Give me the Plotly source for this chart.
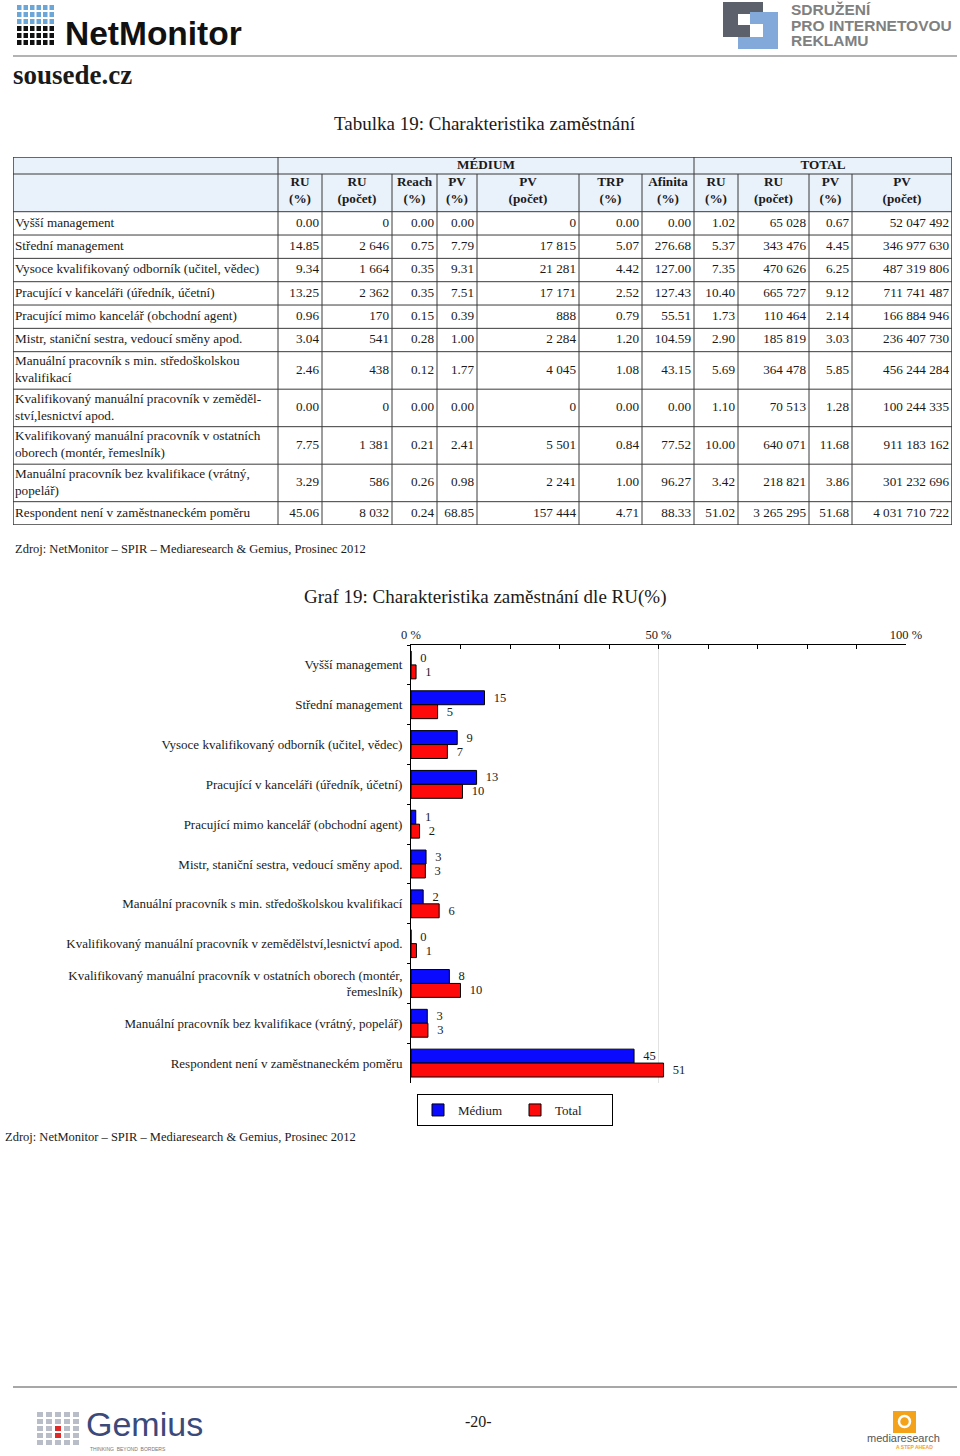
import plotly.graph_objects as go

W, H = 960, 1456
SERIF = "Liberation Serif"
SANS = "Liberation Sans"
TXT = "#1a1a1a"
HEAD_FILL = "#e9f1fb"
LINE = "#3a3a3a"

# ---------------- data ----------------
table_labels = [
    "Vyšší management",
    "Střední management",
    "Vysoce kvalifikovaný odborník (učitel, vědec)",
    "Pracující v kanceláři (úředník, účetní)",
    "Pracující mimo kancelář (obchodní agent)",
    "Mistr, staniční sestra, vedoucí směny apod.",
    "Manuální pracovník s min. středoškolskou<br>kvalifikací",
    "Kvalifikovaný manuální pracovník v zeměděl-<br>ství,lesnictví apod.",
    "Kvalifikovaný manuální pracovník v ostatních<br>oborech (montér, řemeslník)",
    "Manuální pracovník bez kvalifikace (vrátný,<br>popelář)",
    "Respondent není v zaměstnaneckém poměru",
]
chart_labels = [
    "Vyšší management",
    "Střední management",
    "Vysoce kvalifikovaný odborník (učitel, vědec)",
    "Pracující v kanceláři (úředník, účetní)",
    "Pracující mimo kancelář (obchodní agent)",
    "Mistr, staniční sestra, vedoucí směny apod.",
    "Manuální pracovník s min. středoškolskou kvalifikací",
    "Kvalifikovaný manuální pracovník v zemědělství,lesnictví apod.",
    "Kvalifikovaný manuální pracovník v ostatních oborech (montér,<br>řemeslník)",
    "Manuální pracovník bez kvalifikace (vrátný, popelář)",
    "Respondent není v zaměstnaneckém poměru",
]
column_headers = ["", "RU<br>(%)", "RU<br>(počet)", "Reach<br>(%)", "PV<br>(%)", "PV<br>(počet)",
                  "TRP<br>(%)", "Afinita<br>(%)", "RU<br>(%)", "RU<br>(počet)", "PV<br>(%)", "PV<br>(počet)"]
group_headers = ["", "MÉDIUM", "TOTAL"]
group_spans = [1, 7, 4]

medium_ru_pct = [0.00, 14.85, 9.34, 13.25, 0.96, 3.04, 2.46, 0.00, 7.75, 3.29, 45.06]
medium_ru_cnt = [0, 2646, 1664, 2362, 170, 541, 438, 0, 1381, 586, 8032]
medium_reach = [0.00, 0.75, 0.35, 0.35, 0.15, 0.28, 0.12, 0.00, 0.21, 0.26, 0.24]
medium_pv_pct = [0.00, 7.79, 9.31, 7.51, 0.39, 1.00, 1.77, 0.00, 2.41, 0.98, 68.85]
medium_pv_cnt = [0, 17815, 21281, 17171, 888, 2284, 4045, 0, 5501, 2241, 157444]
medium_trp = [0.00, 5.07, 4.42, 2.52, 0.79, 1.20, 1.08, 0.00, 0.84, 1.00, 4.71]
medium_afinita = [0.00, 276.68, 127.00, 127.43, 55.51, 104.59, 43.15, 0.00, 77.52, 96.27, 88.33]
total_ru_pct = [1.02, 5.37, 7.35, 10.40, 1.73, 2.90, 5.69, 1.10, 10.00, 3.42, 51.02]
total_ru_cnt = [65028, 343476, 470626, 665727, 110464, 185819, 364478, 70513, 640071, 218821, 3265295]
total_pv_pct = [0.67, 4.45, 6.25, 9.12, 2.14, 3.03, 5.85, 1.28, 11.68, 3.86, 51.68]
total_pv_cnt = [52047492, 346977630, 487319806, 711741487, 166884946, 236407730,
                456244284, 100244335, 911183162, 301232696, 4031710722]

x_tick_vals = [0, 50, 100]
x_tick_text = ["0 %", "50 %", "100 %"]
series_names = ["Médium", "Total"]

source_text = "Zdroj: NetMonitor – SPIR – Mediaresearch & Gemius, Prosinec 2012"


def px(x):
    return x / W


def py(y):
    return 1 - y / H


def f2(vals):
    return [f"{v:.2f}" for v in vals]


def fint(vals):
    return [f"{v:,}".replace(",", " ") for v in vals]


def bold(s):
    return "<b>" + s.replace("<br>", "</b><br><b>") + "</b>" if s else ""


fig = go.Figure()

# ---------------- table (drawn on its own hidden axes x2/y2, units = pixels) ----------------
col_w = [265, 44, 70, 45, 40, 102, 63, 52, 44, 71, 43, 100]
col_edges = [0]
for w in col_w:
    col_edges.append(col_edges[-1] + w)
table_w = col_edges[-1]

row_h = [17, 37.7] + [37.5 if "<br>" in lab else 23.33 for lab in table_labels]
row_edges = [0]
for h in row_h:
    row_edges.append(row_edges[-1] + h)
table_h = row_edges[-1]
row_mid = [(row_edges[i] + row_edges[i + 1]) / 2 for i in range(len(row_h))]
data_mid = row_mid[2:]

TABLE_TOP = 157
columns = [table_labels, f2(medium_ru_pct), fint(medium_ru_cnt), f2(medium_reach),
           f2(medium_pv_pct), fint(medium_pv_cnt), f2(medium_trp), f2(medium_afinita),
           f2(total_ru_pct), fint(total_ru_cnt), f2(total_pv_pct), fint(total_pv_cnt)]

fig.add_shape(type="rect", xref="x2", yref="y2", x0=0, x1=table_w, y0=0, y1=row_edges[2],
              fillcolor=HEAD_FILL, line=dict(width=0), layer="below")
for i, y in enumerate(row_edges):
    lw = 1.5 if i in (0, len(row_edges) - 1) else 1
    fig.add_shape(type="line", xref="x2", yref="y2", x0=0, x1=table_w, y0=y, y1=y,
                  line=dict(color=LINE, width=lw))
group_edges = [0]
for s in group_spans:
    group_edges.append(group_edges[-1] + s)
for j, x in enumerate(col_edges):
    top = 0 if j in group_edges else row_edges[1]
    lw = 1.5 if j in (0, len(col_edges) - 1) else 1
    fig.add_shape(type="line", xref="x2", yref="y2", x0=x, x1=x, y0=top, y1=table_h,
                  line=dict(color=LINE, width=lw))

tfont = dict(family=SERIF, size=13.2, color=TXT)
gx, gt = [], []
for k, g in enumerate(group_headers):
    if g:
        gx.append((col_edges[group_edges[k]] + col_edges[group_edges[k + 1]]) / 2)
        gt.append(bold(g))
fig.add_trace(go.Scatter(x=gx, y=[row_mid[0]] * len(gx), text=gt, mode="text", textposition="middle center",
                         textfont=tfont, xaxis="x2", yaxis="y2", showlegend=False, hoverinfo="skip",
                         cliponaxis=False))
hx = [(col_edges[j] + col_edges[j + 1]) / 2 for j in range(1, len(col_w))]
fig.add_trace(go.Scatter(x=hx, y=[row_mid[1] - 2] * len(hx), text=[bold(h) for h in column_headers[1:]],
                         mode="text", textposition="middle center", textfont=tfont,
                         xaxis="x2", yaxis="y2", showlegend=False, hoverinfo="skip", cliponaxis=False))
for j, vals in enumerate(columns):
    if j == 0:
        xs, pos = [col_edges[0] + 2] * len(vals), "middle right"
    else:
        xs, pos = [col_edges[j + 1] - 3] * len(vals), "middle left"
    fig.add_trace(go.Scatter(x=xs, y=data_mid, text=vals, mode="text", textposition=pos, textfont=tfont,
                             xaxis="x2", yaxis="y2", showlegend=False, hoverinfo="skip", cliponaxis=False))

# ---------------- bar chart ----------------
for name, vals, col in [(series_names[0], medium_ru_pct, "#0a0aff"), (series_names[1], total_ru_pct, "#ff0a0a")]:
    fig.add_trace(go.Bar(
        y=chart_labels, x=vals, name=name, orientation="h",
        marker=dict(color=col, line=dict(color="black", width=1)),
        texttemplate="\u00a0\u00a0%{x:.0f}", textposition="outside", cliponaxis=False,
        constraintext="none",
        textfont=dict(family=SERIF, size=12.5, color=TXT),
        xaxis="x", yaxis="y",
    ))

fig.update_layout(
    width=W, height=H, margin=dict(l=0, r=0, t=0, b=0, autoexpand=False),
    paper_bgcolor="white", plot_bgcolor="white",
    barmode="group", bargap=0.3, bargroupgap=0,
    font=dict(family=SERIF, size=13, color=TXT),
    xaxis=dict(domain=[px(411), px(906)], range=[0, 100], side="top",
               tickvals=x_tick_vals, ticktext=x_tick_text,
               showgrid=True, gridcolor="#e2e2e2", gridwidth=1,
               showline=True, linecolor="black", linewidth=1,
               ticks="inside", ticklen=4, tickcolor="black",
               minor=dict(dtick=10, ticks="inside", ticklen=4, tickcolor="black", showgrid=False),
               zeroline=False, tickfont=dict(family=SERIF, size=12.5, color=TXT),
               fixedrange=True, automargin=False),
    yaxis=dict(domain=[py(1083), py(645)], autorange="reversed", type="category",
               showline=True, linecolor="black", linewidth=1,
               ticks="outside", ticklen=3, tickcolor="black", tickson="boundaries",
               showgrid=False, tickfont=dict(family=SERIF, size=13, color=TXT),
               ticklabelstandoff=5, fixedrange=True, automargin=False),
    xaxis2=dict(domain=[px(13), px(13 + table_w)], range=[0, table_w], visible=False,
                anchor="y2", fixedrange=True, automargin=False),
    yaxis2=dict(domain=[py(TABLE_TOP + table_h), py(TABLE_TOP)], range=[table_h, 0], visible=False,
                anchor="x2", fixedrange=True, automargin=False),
    showlegend=True,
    legend=dict(orientation="h", x=px(417), y=py(1094), xanchor="left", yanchor="top",
                bordercolor="black", borderwidth=1, bgcolor="white",
                font=dict(family=SERIF, size=13, color=TXT), entrywidth=52,
                traceorder="normal"),
)

# ---------------- texts / decorations ----------------
def text(x, y, s, size, family=SERIF, color=TXT, xanchor="left"):
    fig.add_annotation(x=px(x), y=py(y), xref="paper", yref="paper", text=s, showarrow=False,
                       xanchor=xanchor, yanchor="middle",
                       font=dict(family=family, size=size, color=color))


def rect(x0, y0, x1, y1, color):
    fig.add_shape(type="rect", xref="paper", yref="paper", x0=px(x0), x1=px(x1), y0=py(y0), y1=py(y1),
                  fillcolor=color, line=dict(width=0), layer="above")


def hline(x0, x1, y, color, width=1.5):
    fig.add_shape(type="line", xref="paper", yref="paper", x0=px(x0), x1=px(x1), y0=py(y), y1=py(y),
                  line=dict(color=color, width=width))


text(485, 123, "Tabulka 19: Charakteristika zaměstnání", 19, xanchor="center")
text(485, 597, "Graf 19: Charakteristika zaměstnání dle RU(%)", 19, xanchor="center")
text(13, 549, source_text, 12.5)
text(3, 1137, source_text, 12.5)

# header
for r in range(6):
    for c in range(6):
        col = "#6aa7d8" if r < 3 else "#111111"
        rect(17 + c * 6.5, 5 + r * 7, 21.5 + c * 6.5, 10 + r * 7, col)
text(63, 33, "<b>NetMonitor</b>", 33.5, family=SANS, color="#111111")
text(11, 75, "<b>sousede.cz</b>", 27)
hline(13, 957, 56, "#9a9a9a")

# SPIR logo
rect(723, 2, 763, 14, "#5b606b")
rect(723, 2, 738, 37, "#5b606b")
rect(723, 25, 750, 37, "#5b606b")
rect(763, 12, 778, 49, "#82a9d9")
rect(738, 37, 778, 49, "#82a9d9")
rect(750, 12, 778, 24, "#82a9d9")
text(789, 10, "<b>SDRUŽENÍ</b>", 15.5, family=SANS, color="#808080")
text(789, 25, "<b>PRO INTERNETOVOU</b>", 15.5, family=SANS, color="#808080")
text(789, 40, "<b>REKLAMU</b>", 15.5, family=SANS, color="#808080")

# footer
hline(13, 957, 1387, "#8a8a8a")
for r in range(5):
    for c in range(5):
        col = "#e02a2a" if (r in (2, 3) and c == 2) else "#b9bdc8"
        rect(37 + c * 9, 1412 + r * 7, 43 + c * 9, 1417 + r * 7, col)
text(84, 1424, "Gemius", 34, family=SANS, color="#3b4a7b")
text(88, 1449, "THINKING  BEYOND  BORDERS", 5, family=SANS, color="#777777")
text(478, 1421, "-20-", 16, xanchor="center")
fig.add_shape(type="rect", xref="paper", yref="paper", x0=px(893), x1=px(916), y0=py(1411), y1=py(1433),
              fillcolor="#f5a21b", line=dict(width=0))
fig.add_shape(type="circle", xref="paper", yref="paper", x0=px(899), x1=px(910), y0=py(1416), y1=py(1427),
              fillcolor="#f5a21b", line=dict(color="white", width=2.5))
text(903, 1438, "mediaresearch", 11, family=SANS, color="#555555", xanchor="center")
text(914, 1447, "<b>A STEP AHEAD</b>", 5, family=SANS, color="#f5a21b", xanchor="center")

fig.write_html("out.html", config={"displayModeBar": False},
               post_script="document.body.style.margin='0px';")
